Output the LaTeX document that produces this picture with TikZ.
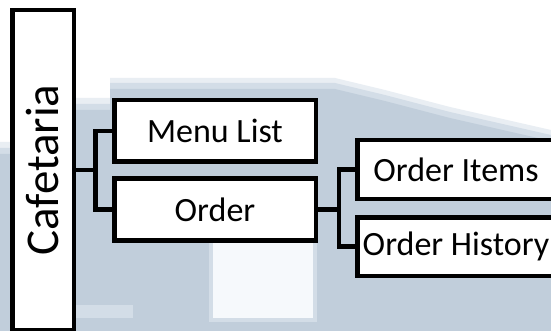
\documentclass[tikz,border=0pt]{standalone}
\usepackage{fontspec}
\setmainfont{Carlito}
\definecolor{wash}{HTML}{C1CEDB}
\definecolor{washedge}{HTML}{D3DDE7}
\definecolor{washfaint}{HTML}{E9EEF3}
\definecolor{washlight}{HTML}{F6F9FC}
\begin{document}
\begin{tikzpicture}[x=1pt,y=-1pt,
  box/.style={draw=black, line width=4.5pt, fill=white, inner sep=0pt,
    minimum width=201.5pt, minimum height=61.5pt,
    font=\fontsize{34}{40}\selectfont},
  leafbox/.style={box, minimum width=197.5pt, minimum height=58.5pt},
  rootbox/.style={draw=black, line width=4.5pt, fill=white, inner sep=0pt,
    minimum width=61.5pt, minimum height=319.5pt},
  link/.style={draw=black, line width=4.5pt}]
\useasboundingbox[clip] (0,0) rectangle (551,331);
\fill[white] (0,0) rectangle (551,331);

% soft pale wash behind the tree, with a blurred rim
\fill[washfaint] (0,142) -- (76,142) -- (76,98) -- (110,98) -- (110,78)
  -- (335,78) -- (385,90) -- (450,107) -- (551,130) -- (551,331) -- (0,331) -- cycle;
\fill[washedge] (0,148) -- (76,148) -- (76,104) -- (110,104) -- (110,83)
  -- (335,83) -- (385,95) -- (450,112) -- (551,135) -- (551,331) -- (0,331) -- cycle;
\fill[wash] (0,154) -- (76,154) -- (76,110) -- (110,110) -- (110,89)
  -- (335,89) -- (385,101) -- (450,118) -- (551,141) -- (551,331) -- (0,331) -- cycle;
\fill[washedge] (209,237) rectangle (317,322);
\fill[washlight] (213,241) rectangle (313,318);
\fill[washedge] (76,305) rectangle (133,318);

% tree
\node[rootbox] (caf) at (43,170) {};
\node[rotate=90, inner sep=0pt, font=\fontsize{47}{56}\selectfont] (caftext) at (caf.center) {Cafetaria};

\node[box] (menu) at (215,131) {Menu List};
\node[box] (order) at (215,209.5) {Order};
\node[leafbox] (items) at (456,169.5) {Order Items};
\node[leafbox] (history) at (456,246.5) {Order History};

\draw[link] (caf.east) -- ++(19.25,0) coordinate (j1);
\draw[link] (menu.west) -| (j1) |- (order.west);
\draw[link] (order.east) -- ++(21,0) coordinate (j2);
\draw[link] (items.west) -| (j2) |- (history.west);
\end{tikzpicture}
\end{document}
